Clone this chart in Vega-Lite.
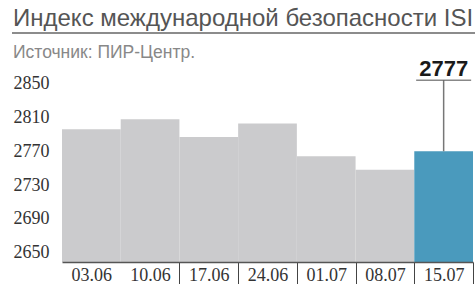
{
  "$schema": "https://vega.github.io/schema/vega-lite/v6.json",
  "width": 463,
  "height": 202,
  "autosize": {"type": "none"},
  "padding": {"left": 12, "top": 60, "right": 0, "bottom": 22},
  "background": "white",
  "config": {"view": {"stroke": null}},
  "title": {
    "text": "Индекс международной безопасности ISI",
    "subtitle": "Источник: ПИР-Центр.",
    "anchor": "start",
    "frame": "group",
    "dx": 1,
    "font": "Liberation Sans",
    "fontSize": 24,
    "fontWeight": "normal",
    "color": "#555555",
    "subtitleFont": "Liberation Sans",
    "subtitleFontSize": 17.5,
    "subtitleColor": "#888888",
    "subtitlePadding": 13,
    "offset": -29
  },
  "data": {
    "values": [
      {"date": "03.06", "value": 2803},
      {"date": "10.06", "value": 2815},
      {"date": "17.06", "value": 2794},
      {"date": "24.06", "value": 2810},
      {"date": "01.07", "value": 2771},
      {"date": "08.07", "value": 2755},
      {"date": "15.07", "value": 2777}
    ]
  },
  "encoding": {
    "x": {
      "field": "date",
      "type": "ordinal",
      "sort": null,
      "scale": {"paddingInner": 0, "paddingOuter": 0, "range": [50, 461]},
      "axis": {
        "title": null,
        "labelAngle": 0,
        "labelFont": "Liberation Serif",
        "labelFontSize": 18,
        "labelColor": "#333333",
        "labelPadding": -18,
        "tickBand": "extent",
        "tickSize": 22,
        "tickWidth": 1,
        "tickColor": "#444444",
        "tickOpacity": {"condition": {"test": "!!datum.extra || datum.value === '03.06'", "value": 0}, "value": 1},
        "domainColor": "#555555",
        "domainWidth": 1.5,
        "zindex": 1
      }
    }
  },
  "layer": [
    {
      "mark": {"type": "bar", "clip": true},
      "encoding": {
        "y": {
          "field": "value",
          "type": "quantitative",
          "stack": null,
          "scale": {"domain": [2646, 2885], "nice": false, "zero": false},
          "axis": {
            "title": null,
            "values": [2650, 2690, 2730, 2770, 2810, 2850],
            "format": "d",
            "domain": false,
            "ticks": false,
            "tickSize": 0,
            "grid": false,
            "labelFont": "Liberation Serif",
            "labelFontSize": 18,
            "labelColor": "#333333",
            "labelAlign": "left",
            "labelPadding": -1,
            "labelBaseline": "alphabetic",
            "labelOffset": -1
          }
        },
        "color": {
          "condition": {"test": "datum.date === '15.07'", "value": "#4a9abd"},
          "value": "#cbcbcd"
        }
      }
    },
    {
      "data": {"values": [{"date": "15.07", "value": 2777, "top": 2861}]},
      "mark": {"type": "rule", "color": "#777777", "strokeWidth": 1.5, "clip": false},
      "encoding": {
        "y": {"field": "value", "type": "quantitative"},
        "y2": {"field": "top"}
      }
    },
    {
      "data": {"values": [{"date": "15.07", "top": 2861}]},
      "mark": {"type": "tick", "orient": "horizontal", "color": "#555555", "size": 55, "thickness": 1.5, "clip": false},
      "encoding": {
        "y": {"field": "top", "type": "quantitative"}
      }
    },
    {
      "data": {"values": [{"date": "15.07", "top": 2861, "label": "2777"}]},
      "mark": {"type": "text", "font": "Liberation Sans", "fontSize": 22, "fontWeight": "bold", "color": "#1a1a1a", "baseline": "alphabetic", "dy": -4, "clip": false},
      "encoding": {
        "y": {"field": "top", "type": "quantitative"},
        "text": {"field": "label"}
      }
    },
    {
      "data": {"values": [{"line": 2917}]},
      "mark": {"type": "rule", "color": "#666666", "strokeWidth": 1.5, "clip": false},
      "encoding": {
        "y": {"field": "line", "type": "quantitative"},
        "x": null
      }
    }
  ]
}
